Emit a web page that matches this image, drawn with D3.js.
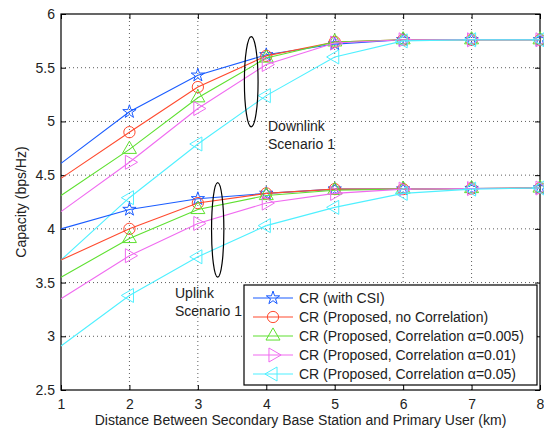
<!DOCTYPE html>
<html>
<head>
  <meta charset="UTF-8">
  <style>
    body { margin: 0; background: white; }
    text { font-family: "Liberation Sans", Arial, sans-serif; fill: #222; }
    .grid line { stroke: #333; stroke-dasharray: 1,3; stroke-width: 0.8; }
  </style>
</head>
<body>
<svg></svg>
<script src="https://cdn.jsdelivr.net/npm/d3@7"></script>
<script>

// distance (km)
let distances = [1, 2, 3, 4, 5, 6, 7, 8];

let seriesNames = ["CR (with CSI)",
                   "CR (Proposed, no Correlation)",
                   "CR (Proposed, Correlation \u03b1=0.005)",
                   "CR (Proposed, Correlation \u03b1=0.01)",
                   "CR (Proposed, Correlation \u03b1=0.05)"];

// downlink scenario 1
let downCSI   = [4.61, 5.09, 5.43, 5.62, 5.72, 5.76, 5.76, 5.76];
let downNoCor = [4.47, 4.90, 5.32, 5.61, 5.74, 5.76, 5.76, 5.76];
let downA005  = [4.31, 4.74, 5.22, 5.59, 5.74, 5.76, 5.76, 5.76];
let downA01   = [4.16, 4.62, 5.12, 5.53, 5.73, 5.76, 5.76, 5.76];
let downA05   = [3.71, 4.29, 4.79, 5.24, 5.60, 5.75, 5.76, 5.76];

// uplink scenario 1
let upCSI   = [4.00, 4.18, 4.28, 4.33, 4.37, 4.37, 4.375, 4.38];
let upNoCor = [3.71, 4.00, 4.24, 4.33, 4.37, 4.37, 4.375, 4.38];
let upA005  = [3.55, 3.91, 4.18, 4.31, 4.36, 4.37, 4.375, 4.38];
let upA01   = [3.35, 3.75, 4.05, 4.24, 4.33, 4.37, 4.375, 4.38];
let upA05   = [2.91, 3.38, 3.74, 4.03, 4.20, 4.33, 4.37, 4.38];

let xTicks = [1, 2, 3, 4, 5, 6, 7, 8];
let yTicks = [2.5, 3, 3.5, 4, 4.5, 5, 5.5, 6];

let colors = ["#1a5cff", "#ff4a2e", "#5ee030", "#f06af0", "#4ff0ff"];
let markers = ["star", "circle", "up", "right", "left"];

let width = 544, height = 430;
let margin = {left: 61, right: 4, top: 14, bottom: 40};

let svg = d3.select("svg")
    .attr("width", width)
    .attr("height", height);

let x = d3.scaleLinear().domain([1, 8]).range([margin.left, width - margin.right]);
let y = d3.scaleLinear().domain([2.5, 6]).range([height - margin.bottom, margin.top]);

// grid
let grid = svg.append("g").attr("class", "grid");
grid.selectAll(".gx").data(xTicks.slice(1, -1)).enter().append("line")
    .attr("x1", d => x(d)).attr("x2", d => x(d))
    .attr("y1", y(2.5)).attr("y2", y(6));
grid.selectAll(".gy").data(yTicks.slice(1, -1)).enter().append("line")
    .attr("y1", d => y(d)).attr("y2", d => y(d))
    .attr("x1", x(1)).attr("x2", x(8));

// axes (ticks inside, box)
let fmt = d => d3.format("")(d);
svg.append("g")
    .attr("transform", "translate(0," + y(2.5) + ")")
    .call(d3.axisBottom(x).tickValues(xTicks).tickSizeInner(-5).tickSizeOuter(0).tickPadding(9).tickFormat(fmt))
    .call(g => g.select(".domain").remove())
    .selectAll("text").style("font-size", "14px");
svg.append("g")
    .attr("transform", "translate(0," + y(6) + ")")
    .call(d3.axisTop(x).tickValues(xTicks).tickSizeInner(-5).tickSizeOuter(0).tickFormat(""))
    .call(g => g.select(".domain").remove());
svg.append("g")
    .attr("transform", "translate(" + x(1) + ",0)")
    .call(d3.axisLeft(y).tickValues(yTicks).tickSizeInner(-5).tickSizeOuter(0).tickPadding(6).tickFormat(fmt))
    .call(g => g.select(".domain").remove())
    .selectAll("text").style("font-size", "14px");
svg.append("g")
    .attr("transform", "translate(" + x(8) + ",0)")
    .call(d3.axisRight(y).tickValues(yTicks).tickSizeInner(-5).tickSizeOuter(0).tickFormat(""))
    .call(g => g.select(".domain").remove());

svg.append("rect")
    .attr("x", x(1)).attr("y", y(6))
    .attr("width", x(8) - x(1)).attr("height", y(2.5) - y(6))
    .attr("fill", "none").attr("stroke", "black").attr("stroke-width", 1.2);

function markerPath(kind) {
  if (kind == "star") return d3.symbol().type(d3.symbolStar).size(55)();
  if (kind == "circle") return d3.symbol().type(d3.symbolCircle).size(100)();
  return d3.symbol().type(d3.symbolTriangle).size(85)();
}
function markerRotate(kind) {
  if (kind == "right") return 90;
  if (kind == "left") return -90;
  return 0;
}

let line = d3.line().x((d, i) => x(distances[i])).y(d => y(d));

let groups = [
  [downCSI, downNoCor, downA005, downA01, downA05],
  [upCSI, upNoCor, upA005, upA01, upA05]
];

let plot = svg.append("g");
groups.forEach(set => {
  set.forEach((vals, k) => {
    plot.append("path")
      .attr("d", line(vals))
      .attr("fill", "none")
      .attr("stroke", colors[k])
      .attr("stroke-width", 1.1);
    plot.selectAll(null).data(vals.slice(1)).enter().append("path")
      .attr("d", markerPath(markers[k]))
      .attr("transform", (d, i) => "translate(" + x(distances[i + 1]) + "," + y(d) + ") rotate(" + markerRotate(markers[k]) + ")")
      .attr("fill", "none")
      .attr("stroke", colors[k])
      .attr("stroke-width", 1);
  });
});

// ellipses + scenario labels
let ellipses = [
  {cx: 3.78, cy: 5.37, rx: 0.10, ry: 0.42, label: ["Downlink", "Scenario 1"], tx: 268, ty: 131},
  {cx: 3.29, cy: 3.99, rx: 0.09, ry: 0.44, label: ["Uplink", "Scenario 1"], tx: 175, ty: 298}
];
ellipses.forEach(e => {
  svg.append("ellipse")
    .attr("cx", x(e.cx)).attr("cy", y(e.cy))
    .attr("rx", x(e.cx + e.rx) - x(e.cx))
    .attr("ry", y(e.cy) - y(e.cy + e.ry))
    .attr("fill", "none").attr("stroke", "black").attr("stroke-width", 1.2);
  e.label.forEach((t, i) => {
    svg.append("text").attr("x", e.tx).attr("y", e.ty + i * 18)
      .style("font-size", "14px").text(t);
  });
});

// legend
let legend = svg.append("g").attr("transform", "translate(244,285)");
legend.append("rect")
  .attr("width", 293).attr("height", 100)
  .attr("fill", "white").attr("stroke", "black").attr("stroke-width", 1.2);
seriesNames.forEach((name, k) => {
  let ly = 13 + k * 19;
  legend.append("line").attr("x1", 9).attr("x2", 49).attr("y1", ly).attr("y2", ly)
    .attr("stroke", colors[k]).attr("stroke-width", 1.1);
  legend.append("path").attr("d", markerPath(markers[k]))
    .attr("transform", "translate(29," + ly + ") rotate(" + markerRotate(markers[k]) + ")")
    .attr("fill", "none").attr("stroke", colors[k]);
  legend.append("text").attr("x", 55).attr("y", ly + 5)
    .style("font-size", "14px").text(name);
});

// axis titles
svg.append("text")
  .attr("x", (x(1) + x(8)) / 2).attr("y", 425)
  .attr("text-anchor", "middle").style("font-size", "14px")
  .text("Distance Between Secondary Base Station and Primary User (km)");
svg.append("text")
  .attr("transform", "translate(26," + (y(4.25)) + ") rotate(-90)")
  .attr("text-anchor", "middle").style("font-size", "14px")
  .text("Capacity (bps/Hz)");

</script>
</body>
</html>
